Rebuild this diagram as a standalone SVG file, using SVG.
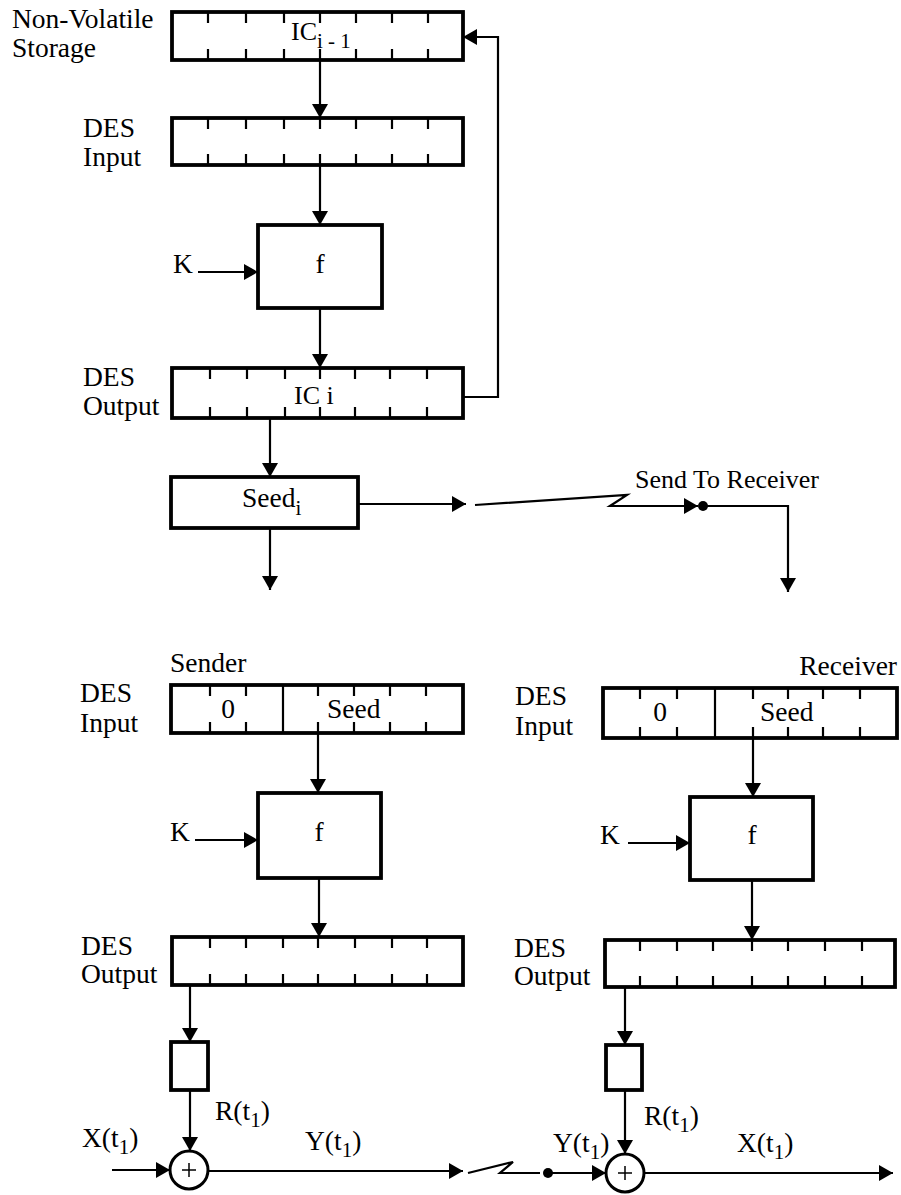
<svg xmlns="http://www.w3.org/2000/svg" width="901" height="1195" viewBox="0 0 901 1195">
<style>
text{font-family:"Liberation Serif","Times New Roman",serif;font-size:27.5px;fill:#000}
.sub{font-size:21px}
.box{fill:#fff;stroke:#000;stroke-width:3.8}
.tick{fill:none;stroke:#000;stroke-width:2.2}
.ln{fill:none;stroke:#000;stroke-width:2.2}
.arr{fill:none;stroke:#000;stroke-width:2.2;marker-end:url(#ah)}
.dot{fill:#000}
.circ{fill:#fff;stroke:#000;stroke-width:3}
</style>
<defs>
<marker id="ah" viewBox="0 0 14 16" refX="14" refY="8" markerWidth="14" markerHeight="16" orient="auto" markerUnits="userSpaceOnUse"><path d="M0,0 L14,8 L0,16 Z" fill="#000"/></marker>
</defs>

<g id="connectors">
<path class="arr" d="M320,60 V118"/>
<path class="arr" d="M320,165 V225"/>
<path class="arr" d="M198,272 H258"/>
<path class="arr" d="M320,308 V368"/>
<path class="arr" d="M463,397 H498 V37 H463"/>
<path class="arr" d="M270,418 V477"/>
<path class="arr" d="M270,528 V590"/>
<path class="arr" d="M358,504 H466"/>
<path class="ln" d="M475,505 L627,495 L610,506 H690"/>
<path class="arr" d="M640,506 H698"/>
<circle class="dot" cx="703" cy="506" r="5"/>
<path class="arr" d="M703,506 H788 V592"/>
<path class="arr" d="M318,733 V793"/>
<path class="arr" d="M195,840 H258"/>
<path class="arr" d="M319,878 V937"/>
<path class="arr" d="M190,985 V1042"/>
<path class="arr" d="M190,1090 V1151"/>
<path class="arr" d="M112,1170 H170"/>
<path class="arr" d="M208,1171 H463"/>
<path class="ln" d="M468,1173 L513,1162 L500,1173 H540"/>
<circle class="dot" cx="548" cy="1173" r="5"/>
<path class="arr" d="M548,1173 H606"/>
<path class="arr" d="M753,738 V797"/>
<path class="arr" d="M628,843 H690"/>
<path class="arr" d="M752,880 V940"/>
<path class="arr" d="M625,987 V1045"/>
<path class="arr" d="M625,1090 V1154"/>
<path class="arr" d="M644,1173 H893"/>
</g>

<g id="labels-top">
<text x="12" y="28">Non-Volatile</text>
<text x="12" y="57">Storage</text>
<text x="83" y="137">DES</text>
<text x="83" y="166">Input</text>
<text x="173" y="273">K</text>
<text x="83" y="386">DES</text>
<text x="83" y="415">Output</text>
<text x="635" y="488" style="font-size:26px">Send To Receiver</text>
</g>

<g id="reg-ic-prev">
<rect class="box" x="172" y="12" width="291" height="48"/>
<path class="tick" d="M208,12v11M246,12v11M284,12v11M320,12v11M356,12v11M392,12v11M428,12v11M208,60v-11M246,60v-11M284,60v-11M320,60v-11M356,60v-11M392,60v-11M428,60v-11"/>
<text x="291" y="40" style="font-size:26px">IC<tspan class="sub" dy="8">i - 1</tspan></text>
</g>

<g id="reg-des-input-top">
<rect class="box" x="172" y="118" width="291" height="47"/>
<path class="tick" d="M208,118v11M246,118v11M284,118v11M320,118v11M356,118v11M392,118v11M428,118v11M208,165v-11M246,165v-11M284,165v-11M320,165v-11M356,165v-11M392,165v-11M428,165v-11"/>
</g>

<g id="f-top">
<rect class="box" x="258" y="225" width="124" height="83"/>
<text x="320" y="273" text-anchor="middle">f</text>
</g>

<g id="reg-ic-i">
<rect class="box" x="172" y="368" width="291" height="50"/>
<path class="tick" d="M210,368v11M247,368v11M285,368v11M320,368v11M355,368v11M390,368v11M427,368v11M210,418v-11M247,418v-11M285,418v-11M320,418v-11M355,418v-11M390,418v-11M427,418v-11"/>
<text x="294" y="404" style="font-size:26px">IC i</text>
</g>

<g id="seed-i">
<rect class="box" x="171" y="477" width="187" height="51"/>
<text x="242" y="507">Seed<tspan class="sub" dy="8">i</tspan></text>
</g>

<g id="sender">
<text x="170" y="672">Sender</text>
<text x="80" y="702">DES</text>
<text x="80" y="732">Input</text>
<text x="170" y="841">K</text>
<text x="81" y="955">DES</text>
<text x="81" y="983">Output</text>
<text x="215" y="1120">R(t<tspan class="sub" dy="7">1</tspan><tspan dy="-7">)</tspan></text>
<text x="82" y="1147">X(t<tspan class="sub" dy="7">1</tspan><tspan dy="-7">)</tspan></text>
<text x="305" y="1150">Y(t<tspan class="sub" dy="7">1</tspan><tspan dy="-7">)</tspan></text>
</g>

<g id="sender-input">
<rect class="box" x="171" y="685" width="292" height="48"/>
<path class="tick" d="M210,685v11M246,685v11M318,685v11M354,685v11M390,685v11M426,685v11M210,733v-11M246,733v-11M318,733v-11M354,733v-11M390,733v-11M426,733v-11M283,685V733"/>
<text x="228" y="718" text-anchor="middle">0</text>
<text x="327" y="718">Seed</text>
</g>

<g id="sender-f">
<rect class="box" x="258" y="793" width="123" height="85"/>
<text x="319" y="841" text-anchor="middle">f</text>
</g>

<g id="sender-output">
<rect class="box" x="172" y="937" width="291" height="48"/>
<path class="tick" d="M210,937v11M246,937v11M283,937v11M318,937v11M355,937v11M392,937v11M427,937v11M210,985v-11M246,985v-11M283,985v-11M318,985v-11M355,985v-11M392,985v-11M427,985v-11"/>
</g>

<g id="sender-r">
<rect class="box" x="171" y="1042" width="37" height="48"/>
</g>

<g id="sender-xor">
<circle class="circ" cx="189" cy="1170" r="19"/>
<path class="tick" d="M182,1170h14M189,1163v14" style="stroke-width:1.5"/>
</g>

<g id="receiver">
<text x="897" y="675" text-anchor="end">Receiver</text>
<text x="515" y="705">DES</text>
<text x="515" y="735">Input</text>
<text x="600" y="844">K</text>
<text x="514" y="957">DES</text>
<text x="514" y="985">Output</text>
<text x="644" y="1125">R(t<tspan class="sub" dy="7">1</tspan><tspan dy="-7">)</tspan></text>
<text x="553" y="1152">Y(t<tspan class="sub" dy="7">1</tspan><tspan dy="-7">)</tspan></text>
<text x="737" y="1152">X(t<tspan class="sub" dy="7">1</tspan><tspan dy="-7">)</tspan></text>
</g>

<g id="receiver-input">
<rect class="box" x="603" y="688" width="294" height="50"/>
<path class="tick" d="M640,688v11M677,688v11M753,688v11M788,688v11M823,688v11M860,688v11M640,738v-11M677,738v-11M753,738v-11M788,738v-11M823,738v-11M860,738v-11M715,688V738"/>
<text x="660" y="721" text-anchor="middle">0</text>
<text x="760" y="721">Seed</text>
</g>

<g id="receiver-f">
<rect class="box" x="690" y="797" width="123" height="83"/>
<text x="752" y="844" text-anchor="middle">f</text>
</g>

<g id="receiver-output">
<rect class="box" x="605" y="940" width="290" height="47"/>
<path class="tick" d="M640,940v11M677,940v11M713,940v11M752,940v11M788,940v11M825,940v11M862,940v11M640,987v-11M677,987v-11M713,987v-11M752,987v-11M788,987v-11M825,987v-11M862,987v-11"/>
</g>

<g id="receiver-r">
<rect class="box" x="606" y="1045" width="36" height="45"/>
</g>

<g id="receiver-xor">
<circle class="circ" cx="625" cy="1173" r="19"/>
<path class="tick" d="M618,1173h14M625,1166v14" style="stroke-width:1.5"/>
</g>
</svg>
